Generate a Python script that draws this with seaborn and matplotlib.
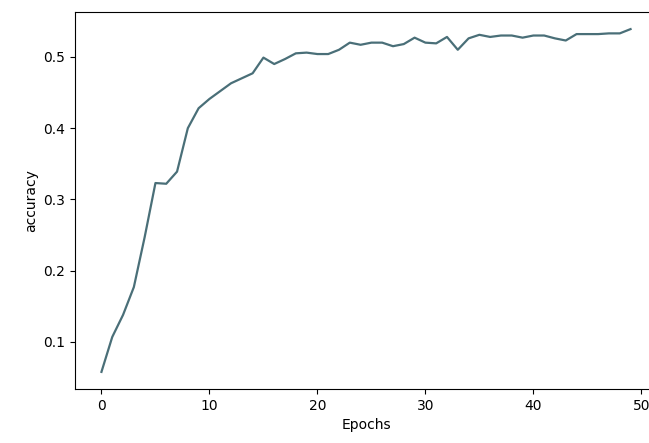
import pandas as pd
import matplotlib
matplotlib.use('Agg')
import matplotlib.pyplot as plt
import seaborn as sns

# accuracy per epoch
epochs = list(range(50))
accuracy = [0.058, 0.107, 0.138, 0.177, 0.247, 0.323, 0.322, 0.339, 0.400, 0.428,
            0.441, 0.452, 0.463, 0.470, 0.477, 0.499, 0.490, 0.497, 0.505, 0.506,
            0.504, 0.504, 0.510, 0.520, 0.517, 0.520, 0.520, 0.515, 0.518, 0.527,
            0.520, 0.519, 0.528, 0.510, 0.526, 0.531, 0.528, 0.530, 0.530, 0.527,
            0.530, 0.530, 0.526, 0.523, 0.532, 0.532, 0.532, 0.533, 0.533, 0.539]

df = pd.DataFrame({'Epochs': epochs, 'accuracy': accuracy})

fig = plt.figure(figsize=(6.49, 4.43), dpi=100)
ax = fig.add_axes([75 / 649, 54 / 443, 582 / 649, 377 / 443])
sns.lineplot(x='Epochs', y='accuracy', data=df, color='#4a6f78', linewidth=1.6, ax=ax)
ax.set_xlabel('Epochs')
ax.set_ylabel('accuracy')
ax.set_xticks([0, 10, 20, 30, 40, 50])
ax.set_yticks([0.1, 0.2, 0.3, 0.4, 0.5])
ax.set_xlim(-2.45, 51.45)
ax.set_ylim(0.034, 0.563)

fig.savefig('out.png', dpi=100)
